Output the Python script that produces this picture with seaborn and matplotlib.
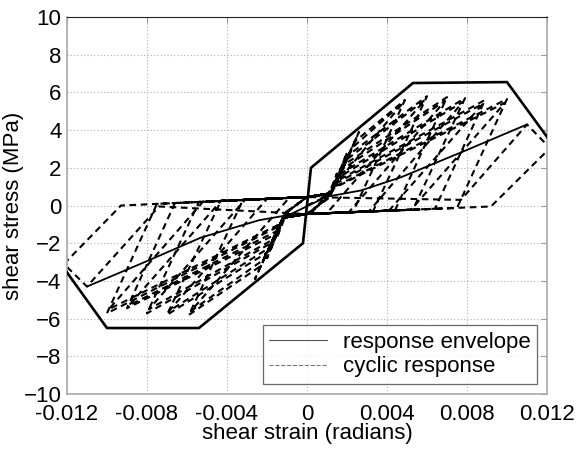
import numpy as np
import pandas as pd
import seaborn as sns
import matplotlib.pyplot as plt
from matplotlib.lines import Line2D

# outer backbone of the response envelope
env_x = [-0.0121, -0.0100, -0.0054, -0.0002, 0.0002, 0.0053, 0.0100, 0.0121]
env_y = [-3.4, -6.5, -6.5, -2.0, 2.0, 6.5, 6.55, 3.5]

# inner (residual) envelope line
diag_x = [-0.0110, -0.0080, -0.0053, -0.0024, -0.0009, 0.0010, 0.0027, 0.0047, 0.0080, 0.0110]
diag_y = [-4.3, -2.95, -1.7, -0.78, -0.5, 0.47, 0.8, 1.5, 2.95, 4.3]

# cyclic response, positive half cycles (start of reload, knee, peak, zero crossing)
pos_start_x = [0.0009, 0.0011, 0.0012, 0.0012, 0.0012, 0.0012, 0.0012, 0.0012, 0.0012,
               0.0012, 0.0012, 0.0012, 0.0012, 0.0012, 0.0012, 0.0077]
pos_start_y = [0.45, 0.55, 0.65, 0.65, 0.65, 0.65, 0.65, 0.65, 0.65,
               0.65, 0.65, 0.65, 0.65, 0.65, 0.65, 0.30]
pos_knee_x = [0.0012, 0.0014, 0.0018, 0.0024, 0.0023, 0.0021, 0.0020, 0.0019, 0.0018,
              0.0017, 0.0016, 0.0015, 0.0015, 0.0014, 0.0013, 0.0077]
pos_knee_y = [0.70, 1.20, 2.00, 3.40, 3.10, 2.70, 2.45, 2.20, 1.95,
              1.70, 1.50, 1.30, 1.20, 1.00, 0.90, 0.30]
pos_tip_x = [0.0015, 0.0020, 0.0026, 0.0049, 0.0048, 0.0060, 0.0059, 0.0070, 0.0069,
             0.0079, 0.0078, 0.0089, 0.0088, 0.0100, 0.0099, 0.0110]
pos_tip_y = [1.70, 2.80, 3.90, 5.60, 5.45, 5.80, 5.60, 5.75, 5.55,
             5.70, 5.50, 5.60, 5.40, 5.65, 5.45, 4.30]
pos_zero_x = [0.0010, 0.0011, 0.0011, 0.0023, 0.0002, 0.0033, 0.0010, 0.0044, 0.0021,
              0.0053, 0.0031, 0.0064, 0.0041, 0.0075, 0.0052, 0.0092]
pos_zero_y = [0.35, 0.40, 0.45, -0.35, -0.43, -0.31, -0.40, -0.26, -0.35,
              -0.22, -0.31, -0.17, -0.27, -0.13, -0.22, -0.05]

# negative half cycles
neg_start_x = [-0.0009, -0.0010, -0.0011, -0.0012, -0.0012, -0.0012, -0.0012, -0.0012,
               -0.0012, -0.0012, -0.0012, -0.0012, -0.0012, -0.0012, -0.0074]
neg_start_y = [-0.45, -0.50, -0.55, -0.65, -0.65, -0.65, -0.65, -0.65,
               -0.65, -0.65, -0.65, -0.65, -0.65, -0.65, -0.05]
neg_knee_x = [-0.0012, -0.0013, -0.0014, -0.0018, -0.0023, -0.0022, -0.0020, -0.0019,
              -0.0018, -0.0017, -0.0016, -0.0015, -0.0014, -0.0013, -0.0074]
neg_knee_y = [-0.70, -1.00, -1.20, -2.00, -3.20, -2.90, -2.50, -2.25,
              -2.00, -1.80, -1.55, -1.35, -1.10, -0.95, -0.05]
neg_tip_x = [-0.0015, -0.0018, -0.0020, -0.0026, -0.0059, -0.0058, -0.0070, -0.0069,
             -0.0080, -0.0079, -0.0090, -0.0089, -0.0100, -0.0099, -0.0110]
neg_tip_y = [-1.70, -2.30, -2.80, -3.90, -5.80, -5.60, -5.80, -5.60,
             -5.72, -5.50, -5.45, -5.30, -5.72, -5.50, -4.30]
neg_zero_x = [-0.0010, -0.0011, -0.0011, -0.0011, -0.0032, -0.0009, -0.0043, -0.0020,
              -0.0054, -0.0031, -0.0066, -0.0043, -0.0075, -0.0052, -0.0093]
neg_zero_y = [-0.35, -0.38, -0.40, -0.45, 0.30, 0.40, 0.25, 0.35,
              0.19, 0.30, 0.13, 0.24, 0.09, 0.20, 0.00]

# post-peak points of the largest cycle (beyond the plotted range)
post_pos = (0.01215, 3.05)
post_neg = (-0.01215, -3.10)
pinch_y = 0.45

# chain the key points into one loading path
cx, cy = [0.0], [0.0]
n_pos, n_neg = len(pos_tip_x), len(neg_tip_x)
for i in range(n_pos):
    cx += [0.0, pos_start_x[i], pos_knee_x[i], pos_tip_x[i]]
    cy += [pinch_y if i else 0.0, pos_start_y[i], pos_knee_y[i], pos_tip_y[i]]
    if i == n_pos - 1:
        cx.append(post_pos[0]); cy.append(post_pos[1])
    cx += [pos_zero_x[i], 0.0]
    cy += [pos_zero_y[i], -pinch_y]
    if i < n_neg:
        cx += [neg_start_x[i], neg_knee_x[i], neg_tip_x[i]]
        cy += [neg_start_y[i], neg_knee_y[i], neg_tip_y[i]]
        if i == n_neg - 1:
            cx.append(post_neg[0]); cy.append(post_neg[1])
        cx.append(neg_zero_x[i]); cy.append(neg_zero_y[i])

cyc = pd.DataFrame({"strain": cx, "stress": cy})
env = pd.DataFrame({"strain": env_x, "stress": env_y})
diag = pd.DataFrame({"strain": diag_x, "stress": diag_y})

sns.set_style("white")
plt.rcParams['font.family'] = ['Liberation Sans', 'DejaVu Sans']

fig = plt.figure(figsize=(5.77, 4.49), dpi=100)
ax = fig.add_axes([0.116, 0.1225, 0.832, 0.8395])

sns.lineplot(data=cyc, x="strain", y="stress", sort=False, estimator=None,
             color="black", linewidth=1.5, ax=ax, zorder=2)
ax.lines[-1].set_dashes((3.2, 2.2))
sns.lineplot(data=env, x="strain", y="stress", sort=False, estimator=None,
             color="black", linewidth=1.9, ax=ax, zorder=3)
sns.lineplot(data=diag, x="strain", y="stress", sort=False, estimator=None,
             color="black", linewidth=1.3, ax=ax, zorder=3)

ax.set_xlim(-0.012, 0.012)
ax.set_ylim(-10, 10)
ax.set_xticks([-0.012, -0.008, -0.004, 0, 0.004, 0.008, 0.012])
ax.set_xticklabels(["-0.012", "-0.008", "-0.004", "0", "0.004", "0.008", "0.012"])
ax.set_yticks(range(-10, 11, 2))
ax.grid(True, linestyle=(0, (1, 2)), color="#b0b0b0", linewidth=0.8)
ax.tick_params(direction="in", length=4, labelsize=16, color="#999999",
               labelcolor="black", top=True, right=True)
ax.tick_params(axis="x", pad=7)
ax.tick_params(axis="y", pad=4)
for s in ["left", "bottom", "right"]:
    ax.spines[s].set_color("#aaaaaa")
    ax.spines[s].set_linewidth(1.2)
ax.spines["top"].set_color("#222222")
ax.set_xlabel("shear strain (radians)", fontsize=16, labelpad=-1, color="black")
ax.set_ylabel("shear stress (MPa)", fontsize=16, labelpad=0, color="black")

handles = [Line2D([], [], color="#555555", linewidth=0.8),
           Line2D([], [], color="#777777", linewidth=0.8, linestyle="--")]
leg = ax.legend(handles, ["response envelope", "cyclic response"], loc="lower right",
                fontsize=16, frameon=True, fancybox=False, handlelength=2.6,
                handletextpad=0.7, borderaxespad=0.45, labelspacing=0.15, borderpad=0.3,
                labelcolor="black")
leg.get_frame().set_edgecolor("#444444")
leg.get_frame().set_linewidth(0.9)

fig.savefig("out.png", dpi=100, facecolor="white")
